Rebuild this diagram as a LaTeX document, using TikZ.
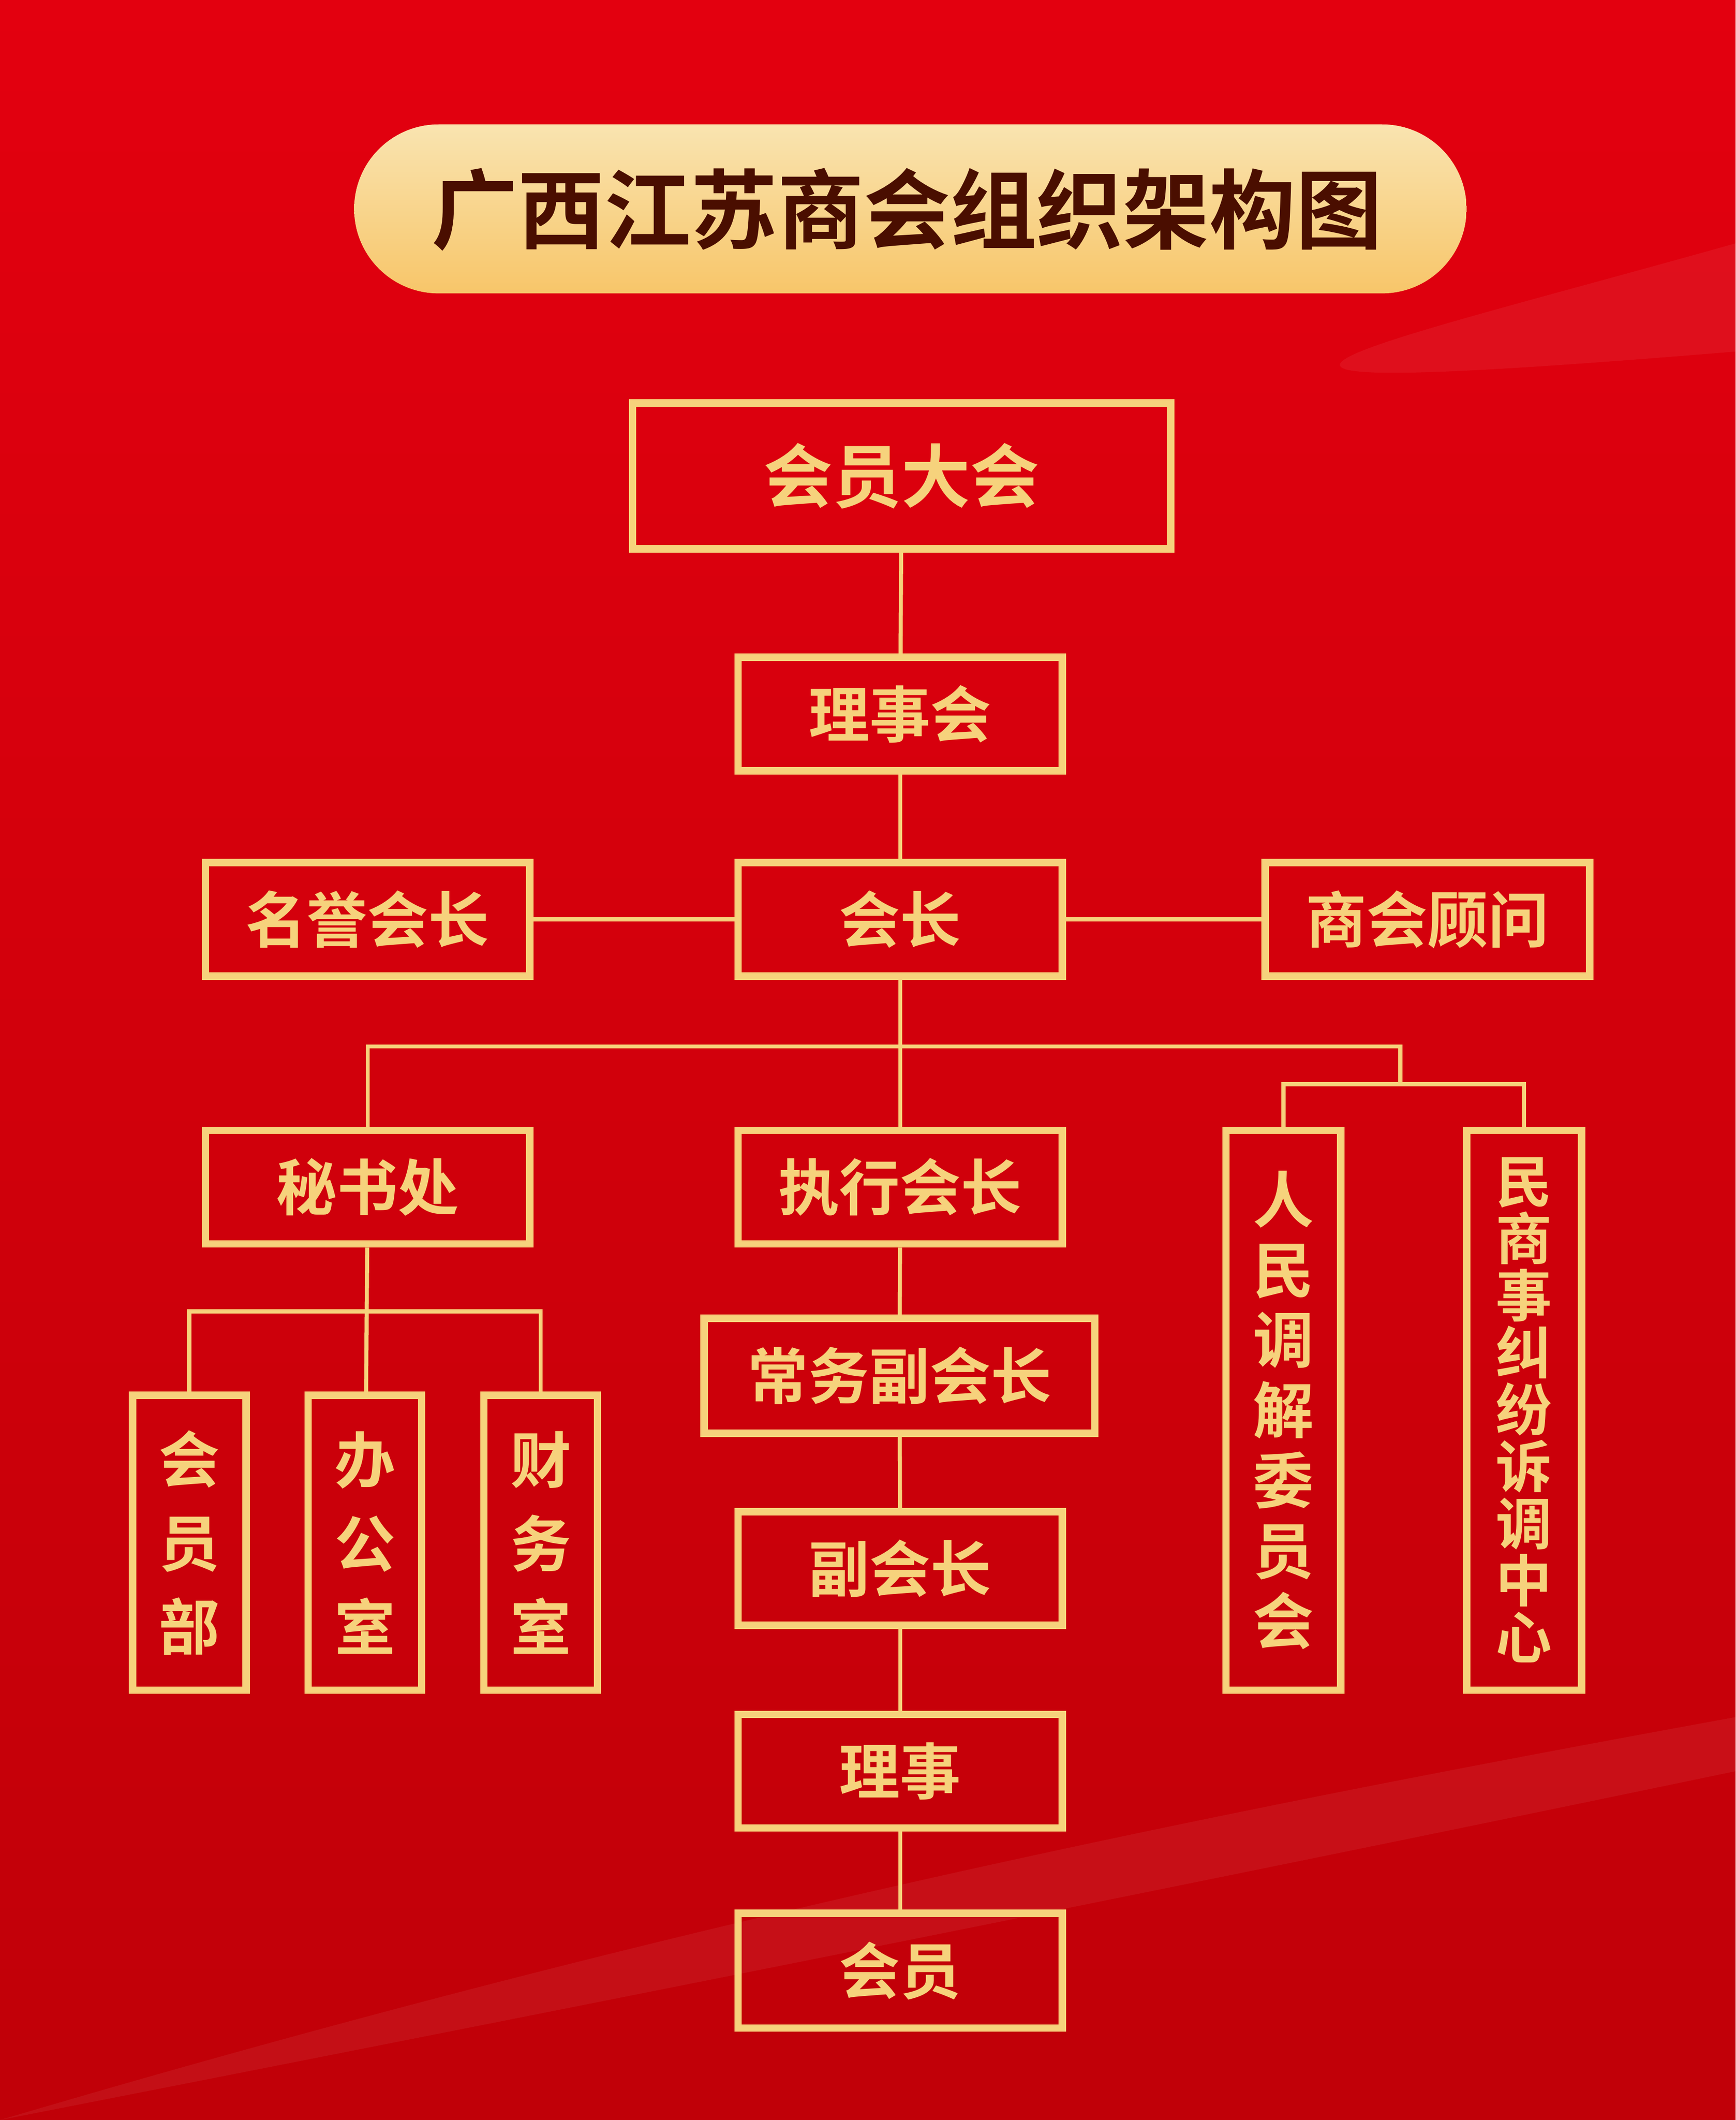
\documentclass[tikz,border=0pt]{standalone}
\usepackage{fontspec}
\newfontfamily\cjk{Noto Sans CJK SC}[BoldFont={Noto Sans CJK SC Bold}]
\definecolor{gold}{HTML}{F6D27C}
\definecolor{bgA}{HTML}{E3000F}
\definecolor{bgB}{HTML}{C00008}
\definecolor{ttl}{HTML}{4A0E00}
\begin{document}
\begin{tikzpicture}[x=0.1cm,y=-0.1cm,
  bx/.style={draw=gold,line width=0.55cm,inner sep=0pt,text=gold,font=\cjk\bfseries\fontsize{128}{138}\selectfont},
  vb/.style={bx,align=center},
  ln/.style={draw=gold,line width=0.3cm}]
\useasboundingbox (0,0) rectangle (1284,1568);
\shade[top color=bgA,bottom color=bgB] (0,0) rectangle (1284,1568);
\fill[white,opacity=0.06] (1284,180) .. controls (1000,260) and (800,300) .. (1284,260) -- cycle;
\fill[white,opacity=0.06] (0,1568) .. controls (500,1420) and (900,1340) .. (1284,1270) -- (1284,1310) .. controls (900,1390) and (500,1470) .. (0,1568);
% title
\shade[top color=gold!60!white,bottom color=gold!85!orange,rounded corners=62.5*0.1cm] (262,92) rectangle (1085,217);
\node[font=\cjk\bfseries\fontsize{182}{190}\selectfont,text=ttl] (t) at (671,155) {广西江苏商会组织架构图};
% boxes
\newcommand\bxx[6]{\node[bx,minimum width={(#3-#2)*0.1cm},minimum height={(#5-#4)*0.1cm}] (#1) at ({(#2+#3)/2},{(#4+#5)/2}) {#6};}
\bxx{a}{468}{866}{298}{406}{\fontsize{145}{150}\selectfont 会员大会}
\bxx{b}{546}{786}{486}{570}{理事会}
\bxx{c}{546}{786}{638}{722}{会长}
\bxx{d}{152}{392}{638}{722}{名誉会长}
\bxx{e}{936}{1176}{638}{722}{商会顾问}
\bxx{f}{152}{392}{836}{920}{秘书处}
\bxx{g}{546}{786}{836}{920}{执行会长}
\bxx{h}{521}{810}{975}{1060}{常务副会长}
\bxx{i}{546}{786}{1118}{1202}{副会长}
\bxx{j}{546}{786}{1268}{1352}{理事}
\bxx{k}{546}{786}{1415}{1500}{会员}
\newcommand\vbx[8]{\node[vb,font=\cjk\bfseries\fontsize{#6}{#7}\selectfont,minimum width={(#3-#2)*0.1cm},minimum height={(#5-#4)*0.1cm}] (#1) at ({(#2+#3)/2},{(#4+#5)/2}) {#8};}
\vbx{m1}{98}{182}{1032}{1250}{128}{176}{会\\员\\部}
\vbx{m2}{228}{312}{1032}{1250}{128}{176}{办\\公\\室}
\vbx{m3}{358}{442}{1032}{1250}{128}{176}{财\\务\\室}
\vbx{p}{907}{992}{836}{1250}{128}{148}{人\\民\\调\\解\\委\\员\\会}
\vbx{q}{1085}{1170}{836}{1250}{118}{120}{民\\商\\事\\纠\\纷\\诉\\调\\中\\心}
% connectors
\coordinate (y1) at (668,774);
\coordinate (y2) at (1036,802);
\coordinate (y3) at (272,970);
\draw[ln] (a) -- (b); \draw[ln] (b) -- (c);
\draw[ln] (d) -- (c); \draw[ln] (c) -- (e);
\draw[ln] (c) -- (g); \draw[ln] (g) -- (h); \draw[ln] (h) -- (i); \draw[ln] (i) -- (j); \draw[ln] (j) -- (k);
\draw[ln] (f.north) |- (y1) -| (y2);
\draw[ln] (p.north) |- (y2) -| (q.north);
\draw[ln] (f) -- (m2);
\draw[ln] (m1.north) |- (y3) -| (m3.north);
\end{tikzpicture}
\end{document}
